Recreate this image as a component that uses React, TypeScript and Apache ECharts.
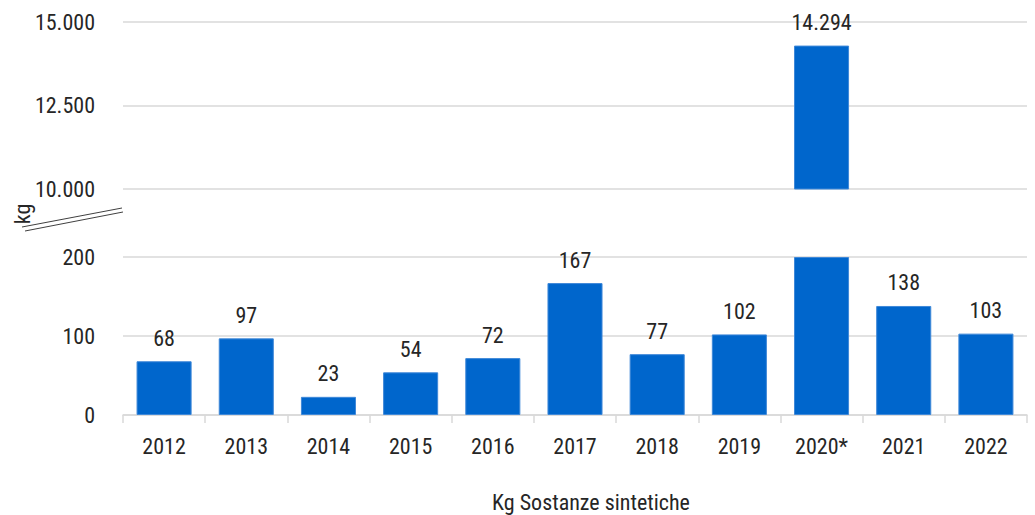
import React, { useEffect, useRef } from "react";
import * as echarts from "echarts";

const years = ["2012", "2013", "2014", "2015", "2016", "2017", "2018", "2019", "2020*", "2021", "2022"];
const kgValues = [68, 97, 23, 54, 72, 167, 77, 102, 14294, 138, 103];
const lowerTicks = { min: 0, max: 200, interval: 100 };
const upperTicks = { min: 10000, max: 15000, interval: 2500 };
const yAxisName = "kg";
const xAxisTitle = "Kg Sostanze sintetiche";

const FONT = "'Liberation Sans Narrow', 'Roboto Condensed', 'DejaVu Sans Condensed', 'Roboto', sans-serif";
const TEXT = "#262626";
const BAR = "#0066CC";
const GRID = "#d9d9d9";
const FS = 22;

const fmt = (v: number) => String(v).replace(/\B(?=(\d{3})+(?!\d))/g, ".");

export default function App() {
  const ref = useRef<HTMLDivElement>(null);
  useEffect(() => {
    if (!ref.current) return;
    const chart = echarts.init(ref.current, null, { renderer: "svg" });
    const lowerData = kgValues.map((v) =>
      v > lowerTicks.max
        ? { value: lowerTicks.max, label: { show: false } }
        : { value: v }
    );
    const upperData = kgValues.map((v) => (v > lowerTicks.max ? v : "-"));
    const barStyle = { color: BAR, borderColor: "#3f88d8", borderWidth: 1 };
    const labelStyle = {
      show: true,
      position: "top",
      distance: 12,
      fontFamily: FONT,
      fontSize: FS,
      color: TEXT,
      formatter: (p: any) => fmt(p.value),
    };
    chart.setOption({
      animation: false,
      textStyle: { fontFamily: FONT },
      grid: [
        { left: 123, right: 8, top: 22, height: 167 },
        { left: 123, right: 8, top: 257, height: 158 },
      ],
      xAxis: [
        {
          gridIndex: 0,
          type: "category",
          data: years,
          show: false,
        },
        {
          gridIndex: 1,
          type: "category",
          data: years,
          axisLine: { lineStyle: { color: GRID, width: 1.5 } },
          axisTick: { show: true, length: 8, lineStyle: { color: GRID, width: 1.5 } },
          axisLabel: { margin: 20, fontFamily: FONT, fontSize: FS, color: TEXT },
        },
      ],
      yAxis: [
        {
          gridIndex: 0,
          type: "value",
          min: upperTicks.min,
          max: upperTicks.max,
          interval: upperTicks.interval,
          axisLine: { show: false },
          axisTick: { show: false },
          splitLine: { lineStyle: { color: GRID, width: 1.5 } },
          axisLabel: { margin: 28, fontFamily: FONT, fontSize: FS, color: TEXT, formatter: fmt },
        },
        {
          gridIndex: 1,
          type: "value",
          min: lowerTicks.min,
          max: lowerTicks.max,
          interval: lowerTicks.interval,
          axisLine: { show: false },
          axisTick: { show: false },
          splitLine: { lineStyle: { color: GRID, width: 1.5 } },
          axisLabel: { margin: 28, fontFamily: FONT, fontSize: FS, color: TEXT, formatter: fmt },
        },
      ],
      series: [
        {
          type: "bar",
          xAxisIndex: 0,
          yAxisIndex: 0,
          data: upperData,
          barWidth: "67%",
          itemStyle: barStyle,
          label: labelStyle,
        },
        {
          type: "bar",
          xAxisIndex: 1,
          yAxisIndex: 1,
          data: lowerData,
          barWidth: "67%",
          itemStyle: barStyle,
          label: labelStyle,
        },
      ],
      graphic: [
        {
          type: "text",
          x: 22,
          y: 214,
          rotation: Math.PI / 2,
          style: {
            text: yAxisName,
            fontFamily: FONT,
            fontSize: FS,
            fill: TEXT,
            align: "center",
            verticalAlign: "middle",
          },
        },
        {
          type: "line",
          shape: { x1: 22, y1: 227, x2: 122, y2: 208 },
          style: { stroke: "#404040", lineWidth: 1 },
        },
        {
          type: "line",
          shape: { x1: 25, y1: 231, x2: 123, y2: 212 },
          style: { stroke: "#404040", lineWidth: 1 },
        },
        {
          type: "text",
          x: 591,
          y: 502,
          style: {
            text: xAxisTitle,
            fontFamily: FONT,
            fontSize: FS,
            fill: TEXT,
            align: "center",
            verticalAlign: "middle",
          },
        },
      ],
    });
    return () => chart.dispose();
  }, []);
  return (
    <div
      ref={ref}
      style={{ position: "fixed", left: 0, top: 0, width: 1035, height: 515, background: "#fff" }}
    />
  );
}
